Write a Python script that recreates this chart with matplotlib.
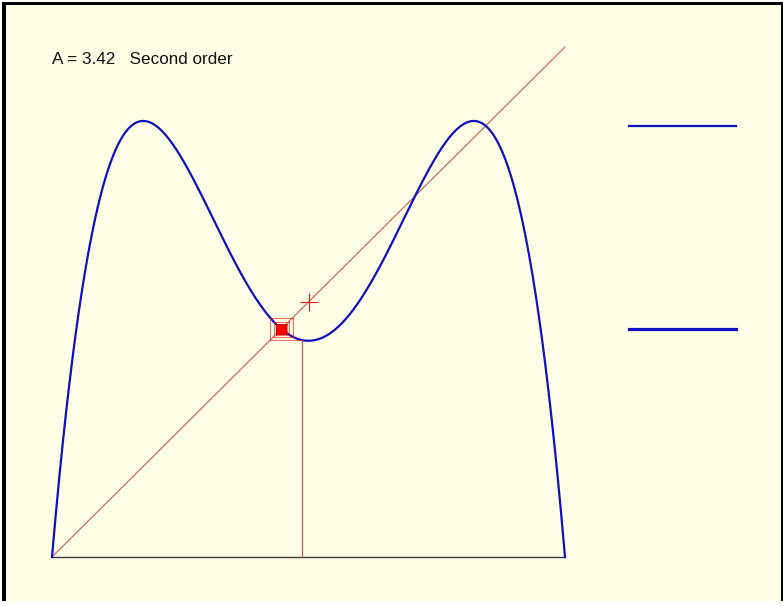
import numpy as np
import matplotlib
matplotlib.use('Agg')
from matplotlib import pyplot as plt
from matplotlib.patches import Rectangle

# parameters of the picture
A = 3.42
title = 'A = 3.42   Second order'
x_start = 0.487          # start of the cobweb
n_iter = 150
cross_pt = [0.5, 0.5]
legend_x = [1.125, 1.333]

bg = '#fefee6'
blue = '#1010c0'
red = '#e01818'
diag_red = '#cc5a50'


def f(x):
    return A * x * (1 - x)


def f2(x):
    return f(f(x))


xs = np.linspace(0, 1, 800)
ys = f2(xs)

# period-2 points (shown as the two blue bars on the right)
d = np.sqrt((A + 1) * (A - 3))
p2 = [((A + 1) + d) / (2 * A), ((A + 1) - d) / (2 * A)]

# cobweb path
cx = [x_start, x_start]
cy = [0.0, f2(x_start)]
x = x_start
for i in range(n_iter):
    y = f2(x)
    cx += [y]
    cy += [y]
    x = y
    cx += [x]
    cy += [f2(x)]

W, H = 783, 606
fig = plt.figure(figsize=(W / 100, H / 100), dpi=100, facecolor='white')
ax = fig.add_axes([0, 0, 1, 1])
ax.axis('off')

# window frame, in axes fractions measured from the top-left pixel
def px_rect(x0, y0, x1, y1, color):
    ax.add_patch(Rectangle((x0 / W, 1 - y1 / H), (x1 - x0) / W, (y1 - y0) / H,
                           transform=ax.transAxes, facecolor=color, edgecolor='none', zorder=-10))

px_rect(2, 2, 783, 601, 'black')
px_rect(6, 5, 781, 601, bg)

ax.set_xlim(-52 / 513, (W - 52) / 513)
ax.set_ylim((557 - H) / 510, 557 / 510)

ax.plot([0, 1], [0, 0], color='#3a3a3a', lw=1)
ax.plot([0, 1], [0, 1], color=diag_red, lw=0.8)
ax.plot(xs, ys, color=blue, lw=1.6)
# cobweb drawn segment by segment so overlaps build up
ax.plot(cx[:2], cy[:2], color=diag_red, lw=0.9, zorder=3)
for i in range(1, len(cx) - 1):
    ax.plot(cx[i:i + 2], cy[i:i + 2], color=red, lw=0.8, alpha=0.6, zorder=3)
# where the cobweb settles
ax.plot(p2[1], p2[1], marker='s', ms=6.5, color='#ff0000', mec='#c00000', mew=0.6, zorder=4)
ax.plot(cross_pt[0], cross_pt[1], marker='+', ms=13, mew=0.8, color=red)
ax.plot(legend_x, [p2[0], p2[0]], color=blue, lw=1.6)
ax.plot(legend_x, [p2[1], p2[1]], color=blue, lw=2.3)

ax.text(0.0, 557 / 510 - 59 / 510, title, fontsize=12.3, family='Liberation Sans',
        va='center', ha='left', color='#111111')

fig.savefig('out.png', dpi=100, facecolor='white')
